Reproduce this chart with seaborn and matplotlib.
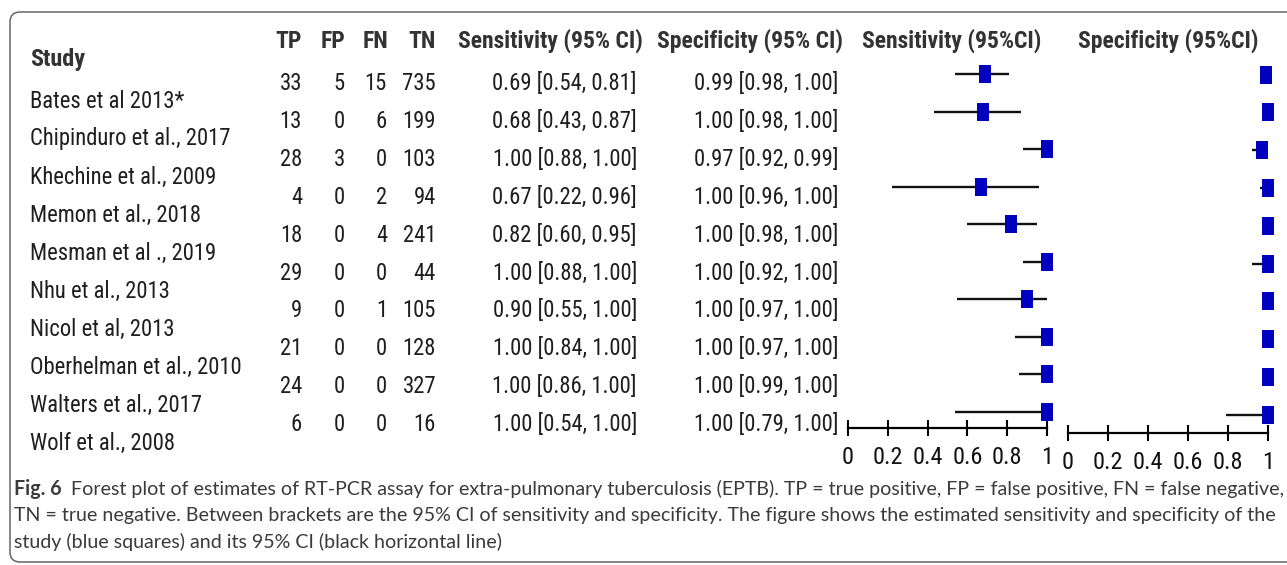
import numpy as np
import pandas as pd
import matplotlib
matplotlib.use("Agg")
import matplotlib.pyplot as plt
from matplotlib import font_manager as fm
from matplotlib.patches import FancyBboxPatch
from matplotlib.path import Path
from matplotlib.markers import MarkerStyle
import seaborn as sns

# ---------------- data ----------------
studies = ["Bates et al 2013*", "Chipinduro et al., 2017", "Khechine et al., 2009",
           "Memon et al., 2018", "Mesman et al ., 2019", "Nhu et al., 2013",
           "Nicol et al, 2013", "Oberhelman et al., 2010", "Walters et al., 2017",
           "Wolf et al., 2008"]
tp = [33, 13, 28, 4, 18, 29, 9, 21, 24, 6]
fp = [5, 0, 3, 0, 0, 0, 0, 0, 0, 0]
fn = [15, 6, 0, 2, 4, 0, 1, 0, 0, 0]
tn = [735, 199, 103, 94, 241, 44, 105, 128, 327, 16]
sens = [0.69, 0.68, 1.00, 0.67, 0.82, 1.00, 0.90, 1.00, 1.00, 1.00]
sens_lo = [0.54, 0.43, 0.88, 0.22, 0.60, 0.88, 0.55, 0.84, 0.86, 0.54]
sens_hi = [0.81, 0.87, 1.00, 0.96, 0.95, 1.00, 1.00, 1.00, 1.00, 1.00]
spec = [0.99, 1.00, 0.97, 1.00, 1.00, 1.00, 1.00, 1.00, 1.00, 1.00]
spec_lo = [0.98, 0.98, 0.92, 0.96, 0.98, 0.92, 0.97, 0.97, 0.99, 0.79]
spec_hi = [1.00, 1.00, 0.99, 1.00, 1.00, 1.00, 1.00, 1.00, 1.00, 1.00]
study_header = "Study"
col_headers = ["TP", "FP", "FN", "TN", "Sensitivity (95% CI)", "Specificity (95% CI)"]
plot_titles = ["Sensitivity (95%CI)", "Specificity (95%CI)"]
tick_values = [0, 0.2, 0.4, 0.6, 0.8, 1]
tick_labels = ["0", "0.2", "0.4", "0.6", "0.8", "1"]
caption_bold = "Fig. 6"
caption_lines = [
    "Forest plot of estimates of RT-PCR assay for extra-pulmonary tuberculosis (EPTB). TP = true positive, FP = false positive, FN = false negative,",
    "TN = true negative. Between brackets are the 95% CI of sensitivity and specificity. The figure shows the estimated sensitivity and specificity of the",
    "study (blue squares) and its 95% CI (black horizontal line)",
]

# ---------------- style ----------------
sns.set_theme(style="white")
names = {f.name for f in fm.fontManager.ttflist}
narrow = next((n for n in ["Liberation Sans Narrow", "Arial Narrow", "Roboto Condensed",
                           "DejaVu Sans Condensed"] if n in names), "Liberation Sans")
plt.rcParams["font.family"] = [narrow, "DejaVu Sans"]
cap_font = next((n for n in ["Lato", "Open Sans"] if n in names), "DejaVu Sans")

W, H = 1287, 565
fig = plt.figure(figsize=(W / 100, H / 100), dpi=100)
fig.patch.set_facecolor("white")

bg = fig.add_axes([0, 0, 1, 1], zorder=0)
bg.set_xlim(0, W)
bg.set_ylim(H, 0)
bg.axis("off")

# frame
frame = FancyBboxPatch((10, 12), 1300, 550, boxstyle="round,pad=0,rounding_size=10",
                       fc="none", ec="#666666", lw=1.1, clip_on=False)
bg.add_patch(frame)

body_c = "#1e1e1e"
head_c = "#333333"
body_fs = 16.3
head_fs = 17

# table headers
bg.text(30, 66, study_header, fontsize=head_fs + 0.5, fontweight="bold", color=head_c,
        ha="left", va="baseline")
col_x = [302, 345, 388, 436, 643, 843]
for x, h in zip(col_x, col_headers):
    bg.text(x, 48, h, fontsize=head_fs, fontweight="bold", color=head_c,
            ha="right", va="baseline")

# table body
body_x = [302, 345, 387, 436, 637, 838]
for i in range(len(studies)):
    yb = 90 + 37.9 * i
    bg.text(30, 107.5 + 38 * i, studies[i], fontsize=body_fs, color=body_c,
            ha="left", va="baseline")
    vals = [str(tp[i]), str(fp[i]), str(fn[i]), str(tn[i]),
            f"{sens[i]:.2f} [{sens_lo[i]:.2f}, {sens_hi[i]:.2f}]",
            f"{spec[i]:.2f} [{spec_lo[i]:.2f}, {spec_hi[i]:.2f}]"]
    for x, v in zip(body_x, vals):
        bg.text(x, yb, v, fontsize=body_fs, color=body_c, ha="right", va="baseline")

# ---------------- forest plots ----------------
rect = Path([(-0.36, -0.5), (0.36, -0.5), (0.36, 0.5), (-0.36, 0.5), (-0.36, -0.5)],
            [Path.MOVETO, Path.LINETO, Path.LINETO, Path.LINETO, Path.CLOSEPOLY])
rect_marker = MarkerStyle(rect)


def forest(left_px, right_px, x0px, x1px, row0px, step, axis_px, top_px,
           est, lo, hi, title, title_x):
    ax = fig.add_axes([left_px / W, 1 - axis_px / H, (right_px - left_px) / W,
                       (axis_px - top_px) / H], zorder=2)
    ax.patch.set_alpha(0)
    scale = x1px - x0px
    ax.set_xlim((left_px - x0px) / scale, (right_px - x0px) / scale)
    ax.set_ylim((axis_px - row0px) / step, (top_px - row0px) / step)
    rows = np.arange(len(est))
    df = pd.DataFrame({"est": est, "lo": lo, "hi": hi, "row": rows})
    ax.hlines(df["row"], df["lo"], df["hi"], color="#111111", lw=1.7, zorder=2)
    sns.scatterplot(data=df, x="est", y="row", marker=rect_marker, s=160,
                    color="#0000BE", linewidth=0, ax=ax, zorder=3, legend=False,
                    clip_on=False)
    for s in ["top", "right", "left"]:
        ax.spines[s].set_visible(False)
    ax.spines["bottom"].set_bounds(0, 1)
    ax.spines["bottom"].set_color("black")
    ax.spines["bottom"].set_linewidth(1.6)
    ax.set_yticks([])
    ax.set_xticks(tick_values)
    ax.set_xticklabels(tick_labels)
    ax.tick_params(axis="x", direction="inout", length=12, width=1.5, color="black",
                   labelsize=17.5, labelcolor="#111111", pad=7, bottom=True)
    ax.set_xlabel("")
    ax.set_ylabel("")
    bg.text(title_x, 48, title, fontsize=head_fs, fontweight="bold", color=head_c,
            ha="left", va="baseline")
    return ax


forest(838, 1062, 848, 1047, 74, 37.5, 428, 55, sens, sens_lo, sens_hi,
       plot_titles[0], 862)
forest(1058, 1287, 1068, 1268, 74.7, 37.8, 433, 55, spec, spec_lo, spec_hi,
       plot_titles[1], 1078)

# ---------------- caption ----------------
cap_c = "#3a3a3a"
cap_fs = 12
base = [495, 521.5, 548]
fig.canvas.draw()
r = fig.canvas.get_renderer()
tb = bg.text(14, base[0], caption_bold, fontsize=cap_fs, fontweight="bold", color=cap_c,
             family=cap_font, ha="left", va="baseline")
bb = tb.get_window_extent(r)
x_after = bb.x1 + 8
t1 = bg.text(x_after, base[0], caption_lines[0], fontsize=cap_fs, color=cap_c,
             family=cap_font, ha="left", va="baseline")
bb1 = t1.get_window_extent(r)
factor = (1283 - 14) / (bb1.x1 - 14)
cap_fs2 = cap_fs * factor
tb.set_fontsize(cap_fs2)
bb = tb.get_window_extent(r)
t1.set_x(bb.x1 + 8 * factor)
t1.set_fontsize(cap_fs2)
for k in (1, 2):
    bg.text(14, base[k], caption_lines[k], fontsize=cap_fs2, color=cap_c,
            family=cap_font, ha="left", va="baseline")

fig.savefig("out.png", dpi=100, facecolor="white")
